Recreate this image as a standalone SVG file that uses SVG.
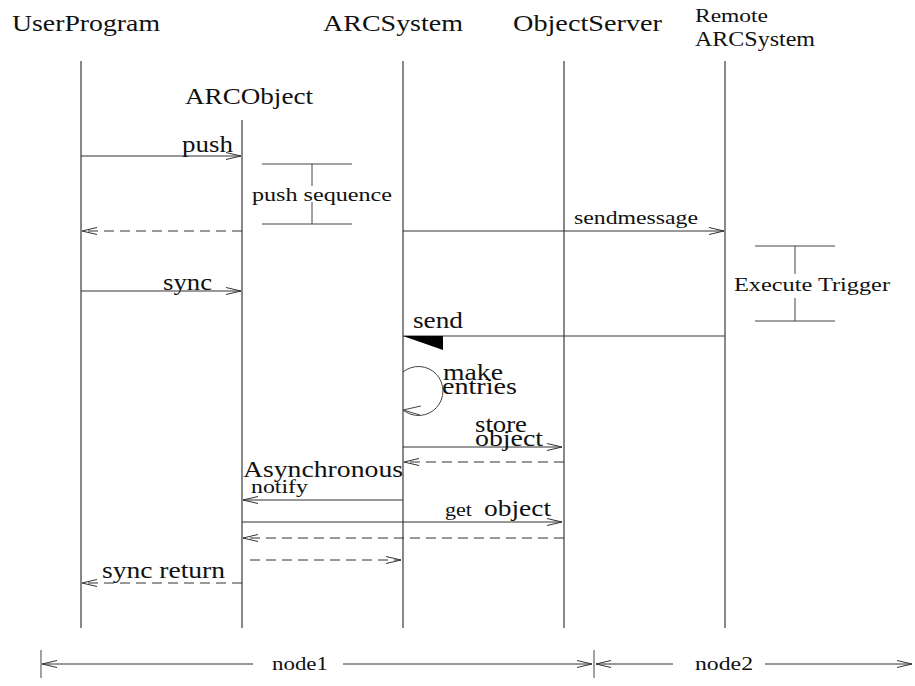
<svg xmlns="http://www.w3.org/2000/svg" width="915" height="686" viewBox="0 0 915 686">
  <style>
    .t { font-family: "Liberation Serif", "Times New Roman", serif; fill: #111; }
    .big { font-size: 24px; }
    .small { font-size: 19px; }
    .life { stroke: #3a3a3a; stroke-width: 1.2; fill: none; }
    .msg { stroke: #333; stroke-width: 1; fill: none; marker-end: url(#open); }
    .ret { stroke: #333; stroke-width: 1; fill: none; stroke-dasharray: 10 6; marker-end: url(#open); }
    .br { stroke: #444; stroke-width: 1; fill: none; }
  </style>
  <defs>
    <marker id="open" viewBox="-17 -6 19 12" refX="0" refY="0" markerWidth="19" markerHeight="12" markerUnits="userSpaceOnUse" orient="auto">
      <path d="M-15,-3.5 L0,0 L-15,3.5" fill="none" stroke="#333" stroke-width="1"/>
    </marker>
  </defs>
  <rect width="915" height="686" fill="#fff"/>

  <!-- participants and lifelines -->
  <g id="UserProgram">
    <text class="t big" x="12" y="31" textLength="148" lengthAdjust="spacingAndGlyphs">UserProgram</text>
    <line class="life" x1="81" y1="61" x2="81" y2="628"/>
  </g>
  <g id="ARCObject">
    <text class="t big" x="185" y="104" textLength="128" lengthAdjust="spacingAndGlyphs">ARCObject</text>
    <line class="life" x1="242" y1="120" x2="242" y2="628"/>
  </g>
  <g id="ARCSystem">
    <text class="t big" x="323" y="31" textLength="140" lengthAdjust="spacingAndGlyphs">ARCSystem</text>
    <line class="life" x1="403" y1="61" x2="403" y2="628"/>
  </g>
  <g id="ObjectServer">
    <text class="t big" x="513" y="31" textLength="149" lengthAdjust="spacingAndGlyphs">ObjectServer</text>
    <line class="life" x1="564" y1="61" x2="564" y2="628"/>
  </g>
  <g id="RemoteARCSystem">
    <text class="t" x="695" y="22" style="font-size:19px" textLength="73" lengthAdjust="spacingAndGlyphs">Remote</text>
    <text class="t" x="695" y="46" style="font-size:21px" textLength="120" lengthAdjust="spacingAndGlyphs">ARCSystem</text>
    <line class="life" x1="725" y1="61" x2="725" y2="628"/>
  </g>

  <!-- duration brackets -->
  <g id="pushSequence">
    <line class="br" x1="262" y1="164" x2="352" y2="164"/>
    <line class="br" x1="262" y1="224" x2="352" y2="224"/>
    <line class="br" x1="312" y1="164" x2="312" y2="186"/>
    <line class="br" x1="312" y1="202" x2="312" y2="224"/>
    <text class="t small" x="252" y="201" textLength="140" lengthAdjust="spacingAndGlyphs">push sequence</text>
  </g>
  <g id="executeTrigger">
    <line class="br" x1="755" y1="246" x2="835" y2="246"/>
    <line class="br" x1="755" y1="321" x2="835" y2="321"/>
    <line class="br" x1="795" y1="246" x2="795" y2="274"/>
    <line class="br" x1="795" y1="298" x2="795" y2="321"/>
    <text class="t small" x="734" y="291" textLength="156" lengthAdjust="spacingAndGlyphs">Execute Trigger</text>
  </g>

  <!-- messages -->
  <g id="connectors">
    <line class="msg" x1="81" y1="156" x2="241" y2="156"/>
    <line class="ret" x1="242" y1="231" x2="82" y2="231"/>
    <line class="msg" x1="403" y1="231" x2="724" y2="231"/>
    <line class="msg" x1="81" y1="291" x2="241" y2="291"/>
    <line class="life" x1="725" y1="336" x2="403" y2="336"/>
    <polygon points="403,336 443,336 443,350" fill="#000"/>
    <path class="br" d="M403,372 A24.5,24.5 0 1 1 403,410"/>
    <path class="br" d="M421,406 L403,410 L420,415"/>
    <line class="msg" x1="403" y1="447" x2="562" y2="447"/>
    <line class="ret" x1="564" y1="462" x2="404" y2="462"/>
    <line class="msg" x1="403" y1="500" x2="243" y2="500"/>
    <line class="msg" x1="242" y1="522" x2="562" y2="522"/>
    <line class="ret" x1="564" y1="538" x2="243" y2="538"/>
    <line class="ret" x1="250" y1="560" x2="401" y2="560"/>
    <line class="ret" x1="242" y1="583" x2="82" y2="583"/>
  </g>

  <!-- message labels -->
  <g id="labels">
    <text class="t big" x="182" y="152" textLength="51" lengthAdjust="spacingAndGlyphs">push</text>
    <text class="t small" x="574" y="224" textLength="124" lengthAdjust="spacingAndGlyphs">sendmessage</text>
    <text class="t big" x="163" y="290" textLength="49" lengthAdjust="spacingAndGlyphs">sync</text>
    <text class="t big" x="413" y="328" textLength="50" lengthAdjust="spacingAndGlyphs">send</text>
    <text class="t big" x="443" y="380" textLength="60" lengthAdjust="spacingAndGlyphs">make</text>
    <text class="t big" x="442" y="394" textLength="75" lengthAdjust="spacingAndGlyphs">entries</text>
    <text class="t big" x="475" y="432" textLength="52" lengthAdjust="spacingAndGlyphs">store</text>
    <text class="t big" x="475" y="446" textLength="68" lengthAdjust="spacingAndGlyphs">object</text>
    <text class="t big" x="243" y="477" textLength="160" lengthAdjust="spacingAndGlyphs">Asynchronous</text>
    <text class="t small" x="251" y="493" textLength="57" lengthAdjust="spacingAndGlyphs">notify</text>
    <text class="t small" x="445" y="516" textLength="27" lengthAdjust="spacingAndGlyphs">get</text>
    <text class="t big" x="484" y="516" textLength="67" lengthAdjust="spacingAndGlyphs">object</text>
    <text class="t big" x="102" y="578" textLength="123" lengthAdjust="spacingAndGlyphs">sync return</text>
  </g>

  <!-- deployment axis -->
  <g id="nodeAxis">
    <line class="br" x1="41" y1="650" x2="41" y2="678"/>
    <line class="br" x1="594" y1="650" x2="594" y2="678"/>
    <line class="msg" x1="253" y1="664" x2="42" y2="664"/>
    <line class="msg" x1="343" y1="664" x2="592" y2="664"/>
    <line class="msg" x1="673" y1="664" x2="596" y2="664"/>
    <line class="msg" x1="765" y1="664" x2="912" y2="664"/>
    <text class="t small" x="272" y="670" textLength="56" lengthAdjust="spacingAndGlyphs">node1</text>
    <text class="t small" x="695" y="670" textLength="58" lengthAdjust="spacingAndGlyphs">node2</text>
  </g>
</svg>
